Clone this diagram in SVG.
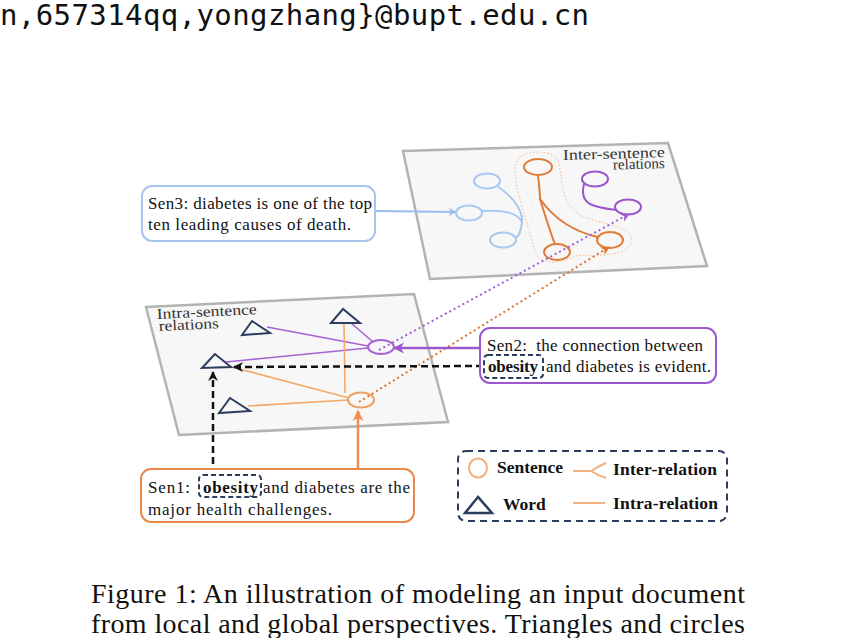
<svg xmlns="http://www.w3.org/2000/svg" width="861" height="638" viewBox="0 0 861 638">
<style>
.plane{fill:#f7f7f7;stroke:#b3b3b3;stroke-width:2.5}
.ptxt{font-family:"Liberation Serif",serif;font-size:15px;fill:#333}
.sen{font-family:"Liberation Serif",serif;font-size:17px;fill:#111}
.b{font-weight:bold}
.leg{font-family:"Liberation Serif",serif;font-size:17.5px;font-weight:bold;fill:#111}
.tri{fill:none;stroke:#2c3e5e;stroke-width:2;stroke-linejoin:miter}
.blue{fill:none;stroke:#a9c8f2;stroke-width:2}
.org{fill:none;stroke:#e07b39;stroke-width:2}
.pur{fill:none;stroke:#9b57cc;stroke-width:2}
.lorg{fill:none;stroke:#f5a868;stroke-width:1.6}
.lpur{fill:none;stroke:#a463d4;stroke-width:1.6}
.dash{fill:none;stroke:#111;stroke-width:2.5;stroke-dasharray:7 4}
.dotp{fill:none;stroke:#a05fd6;stroke-width:2;stroke-dasharray:2 3}
.doto{fill:none;stroke:#d9752f;stroke-width:2;stroke-dasharray:2 3}
.box{fill:#fff;stroke-width:2}
.kw{fill:none;stroke:#2c3e5e;stroke-width:2;stroke-dasharray:5 3}
</style>
<defs>
<marker id="ablue" viewBox="0 0 10 10" refX="9" refY="5" markerWidth="4" markerHeight="4" orient="auto" markerUnits="strokeWidth"><path d="M0,0 L10,5 L0,10 L3,5 z" fill="#9bbcf0"/></marker>
<marker id="apur" viewBox="0 0 10 10" refX="9" refY="5" markerWidth="4.5" markerHeight="4.5" orient="auto" markerUnits="strokeWidth"><path d="M0,0 L10,5 L0,10 L3,5 z" fill="#9b57cc"/></marker>
<marker id="aorg" viewBox="0 0 10 10" refX="9" refY="5" markerWidth="4.5" markerHeight="4.5" orient="auto" markerUnits="strokeWidth"><path d="M0,0 L10,5 L0,10 L3,5 z" fill="#ef8f4c"/></marker>
<marker id="ablk" viewBox="0 0 10 10" refX="9" refY="5" markerWidth="4" markerHeight="4" orient="auto" markerUnits="strokeWidth"><path d="M0,0 L10,5 L0,10 L3,5 z" fill="#111"/></marker>
<marker id="adp" viewBox="0 0 10 10" refX="9" refY="5" markerWidth="4.5" markerHeight="4.5" orient="auto" markerUnits="strokeWidth"><path d="M0,0 L10,5 L0,10 L3,5 z" fill="#a05fd6"/></marker>
<marker id="ado" viewBox="0 0 10 10" refX="9" refY="5" markerWidth="4.5" markerHeight="4.5" orient="auto" markerUnits="strokeWidth"><path d="M0,0 L10,5 L0,10 L3,5 z" fill="#d9752f"/></marker>
</defs>

<text x="0" y="25" font-family="DejaVu Sans Mono,monospace" font-size="29" fill="#111" textLength="589">n,657314qq,yongzhang}@bupt.edu.cn</text>

<!-- upper plane -->
<g id="inter-plane">
<polygon class="plane" points="403,151 668,143 707,266 430,279"/>
<text class="ptxt" transform="rotate(-1.7 665 157)" x="665" y="157" text-anchor="end" textLength="102" lengthAdjust="spacingAndGlyphs">Inter-sentence</text>
<text class="ptxt" transform="rotate(-1.7 665 168)" x="665" y="168" text-anchor="end" textLength="52" lengthAdjust="spacingAndGlyphs">relations</text>
<path d="M520,157 C528,150 552,150 558,160 C564,185 560,202 580,215 C600,225 630,224 632,240 C633,255 595,257 578,255 C566,262 545,266 537,256 C530,238 524,212 518,192 C514,176 514,163 520,157 Z" fill="none" stroke="#f2a878" stroke-width="1" stroke-dasharray="1.5 2" opacity="0.8"/>
<circle cx="495" cy="212" r="38" fill="none" stroke="#ececec" stroke-width="1" stroke-dasharray="1.5 2"/>
</g>
<g id="s3-blue">
<ellipse class="blue" cx="487" cy="181" rx="13" ry="7.5"/>
<ellipse class="blue" cx="469" cy="213" rx="13" ry="7.5"/>
<ellipse class="blue" cx="503" cy="240" rx="13" ry="7.5"/>
<path class="blue" d="M497,186 C515,198 523,212 522,222 C521,230 520,235 516,238"/>
<path class="blue" d="M482,211 C500,210 518,212 522,222"/>
</g>
<g id="s1-orange">
<ellipse class="org" cx="538" cy="167" rx="14" ry="8"/>
<ellipse class="org" cx="557" cy="252" rx="13" ry="8"/>
<ellipse class="org" cx="610" cy="240" rx="13" ry="8"/>
<path class="org" d="M538,175 C539,185 540,192 540,199 C545,215 550,232 555,244"/>
<path class="org" d="M540,199 C555,220 575,232 598,237"/>
</g>
<g id="s2-purple">
<ellipse class="pur" cx="595" cy="179" rx="13" ry="7.5"/>
<ellipse class="pur" cx="628" cy="207" rx="13" ry="7.5"/>
<path class="pur" d="M584,184 C582,192 583,200 590,204 C598,208 608,209 616,210"/>
</g>

<!-- lower plane -->
<g id="intra-plane">
<polygon class="plane" points="146,307 414,294 448,422 179,435"/>
<text class="ptxt" transform="rotate(-2.8 157 319)" x="157" y="319" textLength="100" lengthAdjust="spacingAndGlyphs">Intra-sentence</text>
<text class="ptxt" transform="rotate(-2.8 159 331)" x="159" y="331" textLength="60" lengthAdjust="spacingAndGlyphs">relations</text>
</g>
<g id="intra-edges">
<line class="lpur" x1="267" y1="327" x2="368" y2="346"/>
<line class="lpur" x1="351" y1="323" x2="373" y2="342"/>
<line class="lpur" x1="226" y1="362" x2="368" y2="348"/>
<line class="lorg" x1="228" y1="366" x2="349" y2="398"/>
<line class="lorg" x1="248" y1="406" x2="348" y2="400"/>
<line class="lorg" x1="344" y1="323" x2="345" y2="393"/>
</g>
<g id="w1"><polygon class="tri" points="252,321 242,335 270,333"/></g>
<g id="w2"><polygon class="tri" points="343,309 331,323 360,323"/></g>
<g id="w3"><polygon class="tri" points="215,354 202,368 231,367"/></g>
<g id="w4"><polygon class="tri" points="230,398 219,413 250,411"/></g>
<g id="sen2-node"><ellipse cx="381" cy="347" rx="13" ry="7" fill="none" stroke="#a463d4" stroke-width="2"/></g>
<g id="sen1-node"><ellipse cx="361" cy="400" rx="13" ry="7.5" fill="none" stroke="#f0a060" stroke-width="2"/></g>

<!-- connectors -->
<g id="connectors">
<line x1="376" y1="211" x2="456" y2="212" stroke="#9bbcf0" stroke-width="2" marker-end="url(#ablue)"/>
<line class="dotp" x1="379" y1="350" x2="629" y2="214" marker-end="url(#adp)"/>
<line class="doto" x1="359" y1="402" x2="609" y2="247" marker-end="url(#ado)"/>
<line x1="480" y1="348" x2="394" y2="348" stroke="#9b57cc" stroke-width="2.5" marker-end="url(#apur)"/>
<line class="dash" x1="483" y1="366" x2="234" y2="367" marker-end="url(#ablk)"/>
<line class="dash" x1="213" y1="475" x2="213" y2="372" marker-end="url(#ablk)"/>
<line x1="358" y1="469" x2="358" y2="411" stroke="#ef8f4c" stroke-width="2.5" marker-end="url(#aorg)"/>
</g>

<!-- sentence boxes -->
<g id="sen3">
<rect class="box" x="142" y="186" width="233" height="55" rx="10" stroke="#a9c4ec"/>
<text class="sen" x="148" y="209" textLength="224">Sen3: diabetes is one of the top</text>
<text class="sen" x="148" y="230" textLength="203">ten leading causes of death.</text>
</g>
<g id="sen2">
<rect class="box" x="480" y="328" width="236" height="55" rx="10" stroke="#9b57cc"/>
<text class="sen" x="487" y="351" xml:space="preserve" textLength="216">Sen2:  the connection between</text>
<rect class="kw" x="484" y="355" width="59" height="23" rx="4"/>
<text class="sen b" x="488" y="372" textLength="50">obesity</text>
<text class="sen" x="546" y="372" textLength="165">and diabetes is evident.</text>
</g>
<g id="sen1">
<rect class="box" x="141" y="469" width="273" height="53" rx="10" stroke="#e8894a"/>
<text class="sen" x="148" y="493" textLength="42">Sen1:</text>
<rect class="kw" x="199" y="475" width="62" height="22" rx="4"/>
<text class="sen b" x="203" y="493" textLength="55">obesity</text>
<text class="sen" x="263" y="493" textLength="147">and diabetes are the</text>
<text class="sen" x="148" y="515" textLength="184">major health challenges.</text>
</g>

<!-- legend -->
<g id="legend">
<rect x="458" y="451" width="269" height="70" rx="8" fill="#fff" stroke="#2c3e5e" stroke-width="2" stroke-dasharray="7 5"/>
<ellipse cx="478" cy="468" rx="9" ry="9.5" fill="none" stroke="#f0b080" stroke-width="2"/>
<text class="leg" x="497" y="473">Sentence</text>
<path d="M573,471 L592,471 M606,463 Q597,467 591,471 Q597,475 606,478" fill="none" stroke="#f0b080" stroke-width="2"/>
<text class="leg" x="613" y="475" textLength="104">Inter-relation</text>
<polygon points="478,497 465,513 492,513" fill="none" stroke="#2c3e5e" stroke-width="2.5"/>
<text class="leg" x="503" y="510">Word</text>
<line x1="573" y1="503" x2="605" y2="503" stroke="#f0b080" stroke-width="2"/>
<text class="leg" x="613" y="509" textLength="105">Intra-relation</text>
</g>

<text x="91" y="603" font-family="Liberation Serif,serif" font-size="28" fill="#111" textLength="654">Figure 1: An illustration of modeling an input document</text>
<text x="91" y="633" font-family="Liberation Serif,serif" font-size="28" fill="#111" textLength="654">from local and global perspectives. Triangles and circles</text>
</svg>
